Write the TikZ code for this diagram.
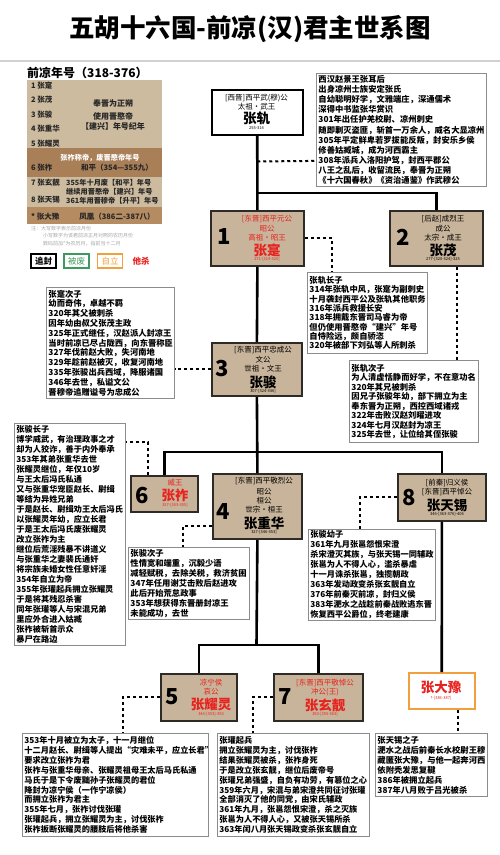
\documentclass[tikz,border=0pt]{standalone}
\usepackage{fontspec}
\setmainfont{Noto Sans CJK SC}
\usetikzlibrary{calc}
\definecolor{ktan}{HTML}{C8B49A}
\definecolor{lgA}{HTML}{CDBB9F}
\definecolor{lgB}{HTML}{A97F58}
\definecolor{lgC}{HTML}{B58C62}
\definecolor{kred}{HTML}{E8231F}
\definecolor{kgreen}{HTML}{3C9A5F}
\definecolor{korange}{HTML}{F0A03C}
\definecolor{kborder}{HTML}{2E2A26}
\tikzset{
  kbox/.style={draw=kborder, line width=1.8pt, fill=ktan, anchor=north west, inner sep=0pt},
  tbox/.style={draw=black!45, line width=0.9pt, fill=white, anchor=north west, inner xsep=2pt, inner ysep=1pt, align=left},
  trunk/.style={line width=2.6pt, black},
  dashc/.style={line width=2pt, black, dash pattern=on 3pt off 3pt},
  knum/.style={font=\fontsize{22}{22}\selectfont\bfseries, inner sep=0pt},
  kline/.style={font=\fontsize{7.5}{8}\selectfont, inner sep=0pt},
  kname/.style={font=\fontsize{13.5}{13.5}\selectfont\bfseries, inner sep=0pt},
  kdate/.style={font=\fontsize{4}{4}\selectfont, inner sep=0pt},
  lgt/.style={font=\fontsize{7.5}{8}\selectfont\bfseries, inner sep=0pt, anchor=west, text=black!85},
  lgc/.style={font=\fontsize{7.5}{8}\selectfont\bfseries, inner sep=0pt, text=black!85},
  lgl/.style={font=\fontsize{7.2}{8}\selectfont\bfseries, inner sep=0pt, anchor=west, text=black!85},
  note/.style={font=\fontsize{5}{5}\selectfont, inner sep=0pt, anchor=west, text=black!35},
  tag/.style={font=\fontsize{8.5}{9}\selectfont\bfseries, minimum width=25pt, minimum height=14pt, inner sep=0pt, line width=1.3pt},
}
\begin{document}
\begin{tikzpicture}[x=1pt,y=-1pt]
\useasboundingbox (0,0) rectangle (500,855);
\fill[white] (0,0) rectangle (500,855);

% title
\node[font=\fontsize{25.5}{28}\selectfont\bfseries, inner sep=0pt] (title) at (250,29) {五胡十六国-前凉(汉)君主世系图};
\draw[line width=1.5pt, black!18] (0,61) -- (500,61);

% legend
\node[font=\fontsize{12}{13}\selectfont\bfseries, inner sep=0pt, anchor=west] (lgtitle) at (27,73) {前凉年号（318-376）};
\fill[lgA] (27,80) rectangle (162,148);
\fill[lgB] (27,148) rectangle (162,177);
\fill[lgA] (27,177) rectangle (162,207);
\fill[lgC] (27,207) rectangle (162,224);
\node[lgt] (l1) at (31,86) {1 张寔};
\node[lgt] (l2) at (31,100) {2 张茂};
\node[lgt] (l3) at (31,115) {3 张骏};
\node[lgt] (l4) at (31,129) {4 张重华};
\node[lgt] (l5) at (31,144) {5 张耀灵};
\node[lgc, font=\fontsize{8}{8}\selectfont\bfseries] (lr1) at (113,103) {奉晋为正朔};
\node[lgc, font=\fontsize{8}{8}\selectfont\bfseries] (lr2) at (113,116) {使用晋愍帝};
\node[lgc, font=\fontsize{8}{8}\selectfont\bfseries] (lr3) at (113,126) {【建兴】年号纪年};
\node[lgc, text=white, font=\fontsize{7.2}{8}\selectfont\bfseries] (lh) at (100,158) {张祚称帝，废晋愍帝年号};
\node[lgt] (l6) at (31,168) {6 张祚};
\node[lgc] (lr6) at (117,168) {和平（354—355九）};
\node[lgt] (l7) at (31,183) {7 张玄靓};
\node[lgt] (l8) at (31,200) {8 张天锡};
\node[lgl] (lr7) at (66,183) {355年十月废【和平】年号};
\node[lgl] (lr8) at (66,192) {继续用晋愍帝【建兴】年号};
\node[lgl] (lr9) at (66,201) {361年用晋穆帝【升平】年号};
\node[lgt] (l9) at (31,217) {* 张大豫};
\node[lgc] (lr10) at (117,217) {凤凰（386二-387八）};
\node[note] (nt1) at (31,229) {注：大写数字表示前凉月份};
\node[note] (nt2) at (43,236) {小写数字为该君前凉正月对照的农历月份};
\node[note] (nt3) at (43,244) {数码前加*为农历月，指前当十二月};
\node[tag, draw=black] (tg1) at (43.5,261) {追封};
\node[tag, draw=kgreen, text=kgreen, font=\fontsize{8.5}{9}\selectfont] (tg2) at (76.5,261) {被废};
\node[tag, draw=korange, text=korange, font=\fontsize{8.5}{9}\selectfont] (tg3) at (110,261) {自立};
\node[tag, text=kred] (tg4) at (141,261) {他杀};

% ---------- ruler boxes ----------
\node[kbox, fill=white, draw=black, line width=1.5pt, minimum width=91pt, minimum height=45pt] (n0) at (211,89) {};
\node[kline] (n0a) at (256.5,98) {[西晋]西平武(穆)公};
\node[kline] (n0b) at (256.5,107) {太祖·武王};
\node[kname] (n0c) at (256.5,118) {张轨};
\node[kdate] (n0d) at (256.5,128) {255-314};

\node[kbox, minimum width=93pt, minimum height=55pt] (n1) at (210,210) {};
\node[knum] (n1n) at (224,237) {1};
\node[kline, text=kred] (n1a) at (267,219) {[东晋]西平元公};
\node[kline, text=kred] (n1b) at (267,229) {昭公};
\node[kline, text=kred] (n1c) at (267,238) {高祖·昭王};
\node[kname, text=kred] (n1d) at (267,250) {张寔};
\node[kdate, text=kred] (n1e) at (267,259) {271-[314-320]};

\node[kbox, minimum width=93pt, minimum height=55pt] (n2) at (389,210) {};
\node[knum] (n2n) at (403,237) {2};
\node[kline] (n2a) at (443,219) {[后赵]成烈王};
\node[kline] (n2b) at (443,229) {成公};
\node[kline] (n2c) at (443,238) {太宗·成王};
\node[kname] (n2d) at (443,250) {张茂};
\node[kdate] (n2e) at (443,259) {277-[320-324]-325};

\node[kbox, minimum width=90pt, minimum height=53pt] (n3) at (211,342) {};
\node[knum] (n3n) at (222,369) {3};
\node[kline] (n3a) at (263,350) {[东晋]西平忠成公};
\node[kline] (n3b) at (263,360) {文公};
\node[kline] (n3c) at (263,369) {世祖·文王};
\node[kname] (n3d) at (263,382) {张骏};
\node[kdate] (n3e) at (263,391) {307-[324-346]};

\node[kbox, minimum width=67pt, minimum height=36pt] (n6) at (130,475) {};
\node[knum] (n6n) at (142,496) {6};
\node[kline, text=kred] (n6a) at (175,483) {威王};
\node[kname, text=kred] (n6b) at (175,495) {张祚};
\node[kdate, text=kred] (n6c) at (175,505) {327-[353-355]};

\node[kbox, minimum width=89pt, minimum height=65pt] (n4) at (212,473) {};
\node[knum] (n4n) at (223,512) {4};
\node[kline] (n4a) at (264,481) {[东晋]西平敬烈公};
\node[kline] (n4b) at (264,492) {昭公};
\node[kline] (n4c) at (264,501) {桓公};
\node[kline] (n4d) at (264,510) {世宗·桓王};
\node[kname] (n4e) at (264,523) {张重华};
\node[kdate] (n4f) at (264,532) {327-[346-353]};

\node[kbox, minimum width=88pt, minimum height=47pt] (n8) at (397,473) {};
\node[knum] (n8n) at (409,498) {8};
\node[kline] (n8a) at (447,483) {[前秦]归义侯};
\node[kline] (n8b) at (447,492) {[东晋]西平悼公};
\node[kname] (n8c) at (447,505) {张天锡};
\node[kdate] (n8d) at (447,514) {346-[363-376]-406};

\node[kbox, minimum width=76pt, minimum height=47pt] (n5) at (160,673) {};
\node[knum] (n5n) at (172,697) {5};
\node[kline, text=kred] (n5a) at (211,683) {凉宁侯};
\node[kline, text=kred] (n5b) at (211,692) {哀公};
\node[kname, text=kred] (n5c) at (211,705) {张耀灵};
\node[kdate, text=kred] (n5d) at (211,714) {344-[353]-355};

\node[kbox, minimum width=89pt, minimum height=47pt] (n7) at (273,673) {};
\node[knum] (n7n) at (285,697) {7};
\node[kline, text=kred] (n7a) at (325,683) {[东晋]西平敬悼公};
\node[kline, text=kred] (n7b) at (325,692) {冲公(王)};
\node[kname, text=kred] (n7c) at (325,705) {张玄靓};
\node[kdate, text=kred] (n7d) at (325,714) {350-[355-363]};

\node[kbox, fill=white, draw=korange, line width=1.5pt, minimum width=66pt, minimum height=36pt] (n9) at (408,672) {};
\node[kname, text=kred] (n9a) at (441,687) {张大豫};
\node[kdate, text=kred] (n9b) at (441,698) {?-[386-387]};

% ---------- text boxes ----------
\node[tbox, text width=166pt, minimum height=113pt, font=\fontsize{8.3}{10.1}\selectfont\bfseries] (T0) at (316,73) {西汉赵景王张耳后\\出身凉州士族安定张氏\\自幼聪明好学，文雅端庄，深通儒术\\深得中书监张华赏识\\301年出任护羌校尉、凉州刺史\\随即剿灭盗匪，斩首一万余人，威名大显凉州\\305年平定鲜卑若罗拔能反叛，封安乐乡侯\\修善姑臧城，成为河西霸主\\308年派兵入洛阳护驾，封西平郡公\\八王之乱后，收留流民，奉晋为正朔\\《十六国春秋》《资治通鉴》作武穆公};

\node[tbox, text width=116pt, minimum height=81pt, font=\fontsize{8.3}{9.3}\selectfont\bfseries] (A) at (307,272) {张轨长子\\314年张轨中风，张寔为副刺史\\十月袭封西平公及张轨其他职务\\316年派兵救援长安\\318年拥戴东晋司马睿为帝\\但仍使用晋愍帝“建兴”年号\\自恃险远，颇自骄恣\\320年被部下刘弘等人所刺杀};

\node[tbox, text width=125pt, minimum height=82pt, font=\fontsize{8.3}{9.5}\selectfont\bfseries] (B) at (349,360) {张轨次子\\为人清虚恬静而好学，不在意功名\\320年其兄被刺杀\\因兄子张骏年幼，部下拥立为主\\奉东晋为正朔，西控西域诸戎\\322年击败汉赵刘曜进攻\\324年七月汉赵封为凉王\\325年去世，让位给其侄张骏};

\node[tbox, text width=124pt, minimum height=111pt, font=\fontsize{8.3}{9.8}\selectfont\bfseries] (C) at (46,287) {张寔次子\\幼而奇伟，卓越不羁\\320年其父被刺杀\\因年幼由叔父张茂主政\\325年正式继任，汉赵派人封凉王\\当时前凉已尽占陇西，向东晋称臣\\327年伐前赵大败，失河南地\\329年趁前赵被灭，收复河南地\\335年张骏出兵西域，降服诸国\\346年去世，私谥文公\\晋穆帝追赠谥号为忠成公};

\node[tbox, text width=107pt, minimum height=222pt, font=\fontsize{8.2}{10}\selectfont\bfseries] (D) at (14,423) {张骏长子\\博学威武，有治理政事之才\\却为人狡诈，善于内外奉承\\353年其弟张重华去世\\张耀灵继位，年仅10岁\\与王太后冯氏私通\\又与张重华宠臣赵长、尉缉\\等结为异姓兄弟\\于是赵长、尉缉劝王太后冯氏\\以张耀灵年幼，应立长君\\于是王太后冯氏废张耀灵\\改立张祚为主\\继位后荒淫残暴不讲道义\\与张重华之妻裴氏通奸\\将宗族未婚女性任意奸淫\\354年自立为帝\\355年张瓘起兵拥立张耀灵\\于是将其残忍杀害\\同年张瓘等人与宋混兄弟\\里应外合进入姑臧\\张祚被斩首示众\\暴尸在路边};

\node[tbox, text width=117pt, minimum height=72pt, font=\fontsize{8.3}{10}\selectfont\bfseries] (E) at (128,547) {张骏次子\\性情宽和端重，沉毅少语\\减轻赋税，去除关税，救济贫困\\347年任用谢艾击败后赵进攻\\此后开始荒怠政事\\353年想获得东晋册封凉王\\未能成功，去世};

\node[tbox, text width=123pt, minimum height=91pt, font=\fontsize{8.2}{10}\selectfont\bfseries] (F) at (308,529) {张骏幼子\\361年九月张邕怨恨宋澄\\杀宋澄灭其族，与张天锡一同辅政\\张邕为人不得人心，滥杀暴虐\\十一月诛杀张邕，独揽朝政\\363年发动政变杀张玄靓自立\\376年前秦灭前凉，封归义侯\\383年淝水之战趁前秦战败逃东晋\\恢复西平公爵位，终老建康};

\node[tbox, text width=182pt, minimum height=103pt, font=\fontsize{8.2}{9.9}\selectfont\bfseries] (G) at (22,733) {353年十月被立为太子，十一月继位\\十二月赵长、尉缉等人提出“灾难未平，应立长君”\\要求改立张祚为君\\张祚与张重华母亲、张耀灵祖母王太后马氏私通\\马氏于是下令废黜孙子张耀灵的君位\\降封为凉宁侯（一作宁凉侯）\\而拥立张祚为君主\\355年七月，张祚讨伐张瓘\\张瓘起兵，拥立张耀灵为主，讨伐张祚\\张祚扳断张耀灵的腰肢后将他杀害};

\node[tbox, text width=148pt, minimum height=103pt, font=\fontsize{8.2}{9.9}\selectfont\bfseries] (H) at (217,733) {张瓘起兵\\拥立张耀灵为主，讨伐张祚\\结果张耀灵被杀，张祚身死\\于是改立张玄靓，继位后废帝号\\张瓘兄弟强盛，自负有功劳，有篡位之心\\359年六月，宋混与弟宋澄共同征讨张瓘\\全部消灭了他的同党，由宋氏辅政\\361年九月，张邕怨恨宋澄，杀之灭族\\张邕为人不得人心，又被张天锡所杀\\363年闰八月张天锡政变杀张玄靓自立};

\node[tbox, text width=108pt, minimum height=63pt, font=\fontsize{8.3}{10}\selectfont\bfseries] (I) at (375,733) {张天锡之子\\淝水之战后前秦长水校尉王穆\\藏匿张大豫，与他一起奔河西\\依附秃发思复鞬\\386年被拥立起兵\\387年八月败于吕光被杀};

% ---------- trunk lines ----------
\coordinate (j1) at (256.5,193);
\coordinate (j2) at (256.5,452);
\coordinate (j3) at (256.5,645);
\draw[trunk] (n0.south) -- (n1.north);
\draw[trunk] (j1) -| (n2.north);
\draw[trunk] (n1.south) -- (n3.north);
\draw[trunk] (n3.south) -- (n4.north);
\draw[trunk] (n6.north) |- (j2) -| (n8.north);
\draw[trunk] (n8.south) -- (n9.north);
\draw[trunk] (n4.south) -- (j3);
\draw[trunk] (n5.north) |- (j3) -| (n7.north);

% ---------- dashed connectors ----------
\draw[dashc] ($(n0.south)+(0,26)$) -- ($(T0.south west)+(0,-26)$);
\draw[dashc] (n1.east) -| ($(A.north west)+(25,0)$);
\draw[dashc] ($(n2.south west)+(68,0)$) -- ($(B.north west)+(108,0)$);
\draw[dashc] (n3.west) -- (n3.west -| C.east);
\draw[dashc] ($(n6.north west)+(18,0)$) |- ($(D.north east)+(0,19)$);
\draw[dashc] ($(n4.south west)+(0,-14)$) -| ($(E.north west)+(55,0)$);
\draw[dashc] (n8.west) -| ($(F.north west)+(52,0)$);
\draw[dashc] (n5.west) -| ($(G.north west)+(101,0)$);
\draw[dashc] (n7.west) -| ($(H.north west)+(36,0)$);
\draw[dashc] ($(n9.south west)+(50,0)$) -- ($(I.north west)+(83,0)$);
\end{tikzpicture}
\end{document}
